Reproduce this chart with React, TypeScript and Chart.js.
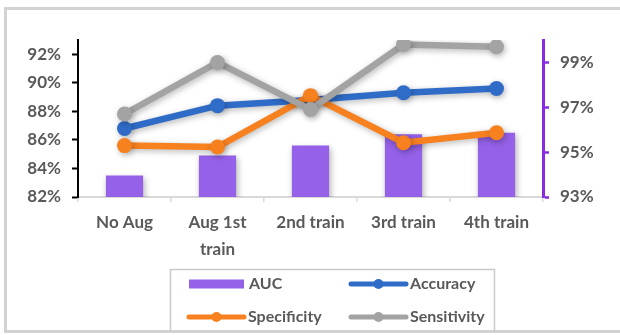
import React, { useEffect, useRef } from "react";
import { Chart, registerables } from "chart.js";

Chart.register(...registerables);

// Categories and series (percent values)
const categories: (string | string[])[] = ["No Aug", ["Aug 1st", "train"], "2nd train", "3rd train", "4th train"];
const aucValues = [83.5, 84.9, 85.6, 86.4, 86.5];
const accuracyValues = [86.8, 88.4, 88.8, 89.3, 89.6];
const specificityValues = [85.6, 85.5, 89.1, 85.8, 86.5];
const sensitivityValues = [96.7, 99.0, 96.9, 99.8, 99.7];

// Axis ticks
const leftTicks = [82, 84, 86, 88, 90, 92];
const rightTicks = [93, 95, 97, 99];

const FONT = 'Lato, "Open Sans", "Liberation Sans", sans-serif';
const TEXT = "#595959";
const PURPLE = "#9461E8";
const BLUE = "#2F6CC8";
const ORANGE = "#F7801F";
const GRAY = "#A3A3A3";

// Soft drop shadow under every series
const shadowPlugin = {
  id: "seriesShadow",
  beforeDatasetDraw(chart: any) {
    const ctx = chart.ctx;
    ctx.save();
    ctx.shadowColor = "rgba(0,0,0,0.28)";
    ctx.shadowBlur = 6;
    ctx.shadowOffsetX = 1.5;
    ctx.shadowOffsetY = 2;
  },
  afterDatasetDraw(chart: any) {
    chart.ctx.restore();
  },
};

// Outer frame behind the chart
const framePlugin = {
  id: "frame",
  beforeDraw(chart: any) {
    const ctx = chart.ctx;
    ctx.save();
    ctx.fillStyle = "#fff";
    ctx.fillRect(0, 0, chart.width, chart.height);
    ctx.strokeStyle = "#d2d2d2";
    ctx.lineWidth = 3;
    ctx.strokeRect(5.5, 8.5, 660, 323);
    ctx.restore();
  },
};

// Boxed two-column legend below the plot
const legendBoxPlugin = {
  id: "legendBox",
  afterDraw(chart: any) {
    const ctx = chart.ctx;
    ctx.save();
    ctx.strokeStyle = "#c9c9c9";
    ctx.lineWidth = 1.5;
    ctx.beginPath();
    ctx.moveTo(170.5, 332);
    ctx.lineTo(170.5, 269.5);
    ctx.lineTo(494.5, 269.5);
    ctx.lineTo(494.5, 332);
    ctx.stroke();

    const slots = [
      { x: 188, y: 284 },
      { x: 349, y: 284 },
      { x: 187, y: 317 },
      { x: 349, y: 317 },
    ];
    const sampleW = 59;
    chart.data.datasets.forEach((ds: any, i: number) => {
      const s = slots[i];
      if (!s) return;
      if (ds.type === "bar") {
        ctx.fillStyle = ds.backgroundColor;
        ctx.fillRect(s.x + 1, s.y - 4.5, 55, 9);
      } else {
        ctx.strokeStyle = ds.borderColor;
        ctx.lineWidth = 5;
        ctx.lineCap = "round";
        ctx.beginPath();
        ctx.moveTo(s.x + 2, s.y);
        ctx.lineTo(s.x + sampleW - 2, s.y);
        ctx.stroke();
        ctx.fillStyle = ds.borderColor;
        ctx.beginPath();
        ctx.arc(s.x + sampleW / 2, s.y, 5, 0, Math.PI * 2);
        ctx.fill();
      }
      ctx.fillStyle = TEXT;
      ctx.font = `bold 16px ${FONT}`;
      ctx.textBaseline = "middle";
      ctx.textAlign = "left";
      ctx.fillText(ds.label, s.x + sampleW + 2, s.y);
    });
    ctx.restore();
  },
};

export default function App() {
  const canvasRef = useRef<HTMLCanvasElement | null>(null);

  useEffect(() => {
    const canvas = canvasRef.current;
    if (!canvas) return;

    const lineDs = (label: string, data: number[], color: string, order: number, axis: string) => ({
      type: "line" as const,
      label,
      data,
      yAxisID: axis,
      borderColor: color,
      backgroundColor: color,
      borderWidth: 6.5,
      pointRadius: 7.5,
      pointHoverRadius: 7.5,
      pointBackgroundColor: color,
      pointBorderColor: color,
      pointBorderWidth: 0,
      tension: 0,
      order,
    });

    const tickFont = { family: FONT, size: 17, weight: "bold" };

    const chart = new Chart(canvas, {
      type: "bar",
      data: {
        labels: categories,
        datasets: [
          {
            type: "bar",
            label: "AUC",
            data: aucValues,
            yAxisID: "y",
            backgroundColor: PURPLE,
            borderWidth: 0,
            barPercentage: 0.4,
            categoryPercentage: 1,
            order: 4,
          } as any,
          lineDs("Accuracy", accuracyValues, BLUE, 3, "y"),
          lineDs("Specificity", specificityValues, ORANGE, 2, "y"),
          lineDs("Sensitivity", sensitivityValues, GRAY, 1, "y1"),
        ],
      },
      options: {
        responsive: false,
        animation: false,
        devicePixelRatio: 1,
        layout: { padding: { top: 40, left: 0, right: 0, bottom: 0 } },
        plugins: {
          legend: { display: false },
          tooltip: { enabled: false },
        },
        scales: {
          x: {
            offset: true,
            grid: {
              display: true,
              drawOnChartArea: false,
              drawTicks: true,
              tickLength: 5,
              color: "#d9d9d9",
              lineWidth: 1.5,
            },
            border: { display: true, color: "#d9d9d9", width: 2 },
            ticks: {
              color: TEXT,
              font: { ...tickFont, lineHeight: 1.6 },
              padding: 7,
              maxRotation: 0,
              autoSkip: false,
            },
            afterFit(scale: any) {
              scale.height = 138;
            },
          },
          y: {
            position: "left",
            min: 82,
            max: 93,
            grid: {
              display: true,
              drawOnChartArea: false,
              drawTicks: true,
              tickLength: 6,
              tickColor: "#000",
              tickWidth: 2,
            },
            border: { display: true, color: "#000", width: 2 },
            ticks: {
              color: TEXT,
              font: tickFont,
              padding: 11,
              callback: (v: any) => `${v}%`,
            },
            afterBuildTicks(scale: any) {
              scale.ticks = leftTicks.map((v) => ({ value: v }));
            },
            afterFit(scale: any) {
              scale.width = 78;
            },
          },
          y1: {
            position: "right",
            min: 93,
            max: 100,
            grid: {
              display: true,
              drawOnChartArea: false,
              drawTicks: true,
              tickLength: 6,
              tickColor: "#8A2BE2",
              tickWidth: 2.5,
            },
            border: { display: true, color: "#8A2BE2", width: 3 },
            ticks: {
              color: TEXT,
              font: tickFont,
              padding: 11,
              callback: (v: any) => `${v}%`,
            },
            afterBuildTicks(scale: any) {
              scale.ticks = rightTicks.map((v) => ({ value: v }));
            },
            afterFit(scale: any) {
              scale.width = 77;
            },
          },
        },
      } as any,
      plugins: [framePlugin, shadowPlugin, legendBoxPlugin],
    });

    return () => chart.destroy();
  }, []);

  return (
    <div style={{ position: "fixed", left: 0, top: 0, width: 620, height: 335, background: "#fff" }}>
      <canvas ref={canvasRef} width={620} height={335} style={{ display: "block" }} />
    </div>
  );
}
